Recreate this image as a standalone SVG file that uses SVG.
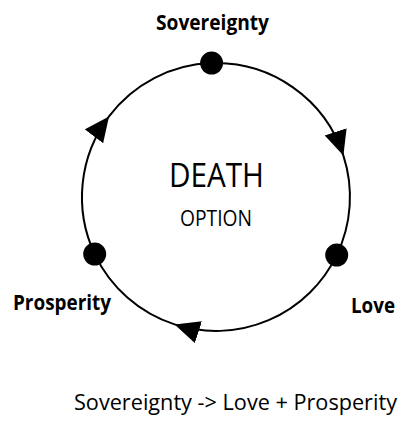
<svg xmlns="http://www.w3.org/2000/svg" width="404" height="422" viewBox="0 0 404 422">
<style>
.lbl{font-family:"Open Sans","Noto Sans","Liberation Sans",sans-serif;fill:#000}
.b{font-weight:bold}
.conn{fill:none;stroke:#000;stroke-width:2;marker-mid:url(#arr)}
.dot{fill:#000}
</style>
<defs>
<marker id="arr" viewBox="-25 -12 25 24" markerWidth="25" markerHeight="24" refX="0" refY="0" markerUnits="userSpaceOnUse" orient="auto">
<path d="M0,0 L-25,-11.5 L-25,11.5 Z" fill="#000"/>
</marker>
</defs>
<rect width="404" height="422" fill="#fff"/>
<g id="connectors">
<path class="conn" d="M211.6,63.1 A134,134 0 0 1 343.4,155.6 A134,134 0 0 1 336.7,255.1"/>
<path class="conn" d="M336.7,255.1 A134,134 0 0 1 174.6,324.4 A134,134 0 0 1 94.7,254.1"/>
<path class="conn" d="M94.7,254.1 A134,134 0 0 1 109.0,116.4 A134,134 0 0 1 211.6,63.1"/>
</g>
<g id="sovereignty">
<circle class="dot" cx="211.6" cy="63.1" r="11.5"/>
<text class="lbl b" x="156" y="29.5" font-size="22" textLength="113" lengthAdjust="spacingAndGlyphs">Sovereignty</text>
</g>
<g id="love">
<circle class="dot" cx="336.7" cy="255.1" r="11.5"/>
<text class="lbl b" x="351" y="313" font-size="21" textLength="44" lengthAdjust="spacingAndGlyphs">Love</text>
</g>
<g id="prosperity">
<circle class="dot" cx="94.7" cy="254.1" r="11.5"/>
<text class="lbl b" x="13" y="310" font-size="22" textLength="98" lengthAdjust="spacingAndGlyphs">Prosperity</text>
</g>
<g id="center">
<text class="lbl" x="169" y="187" font-size="33" font-weight="500" textLength="95" lengthAdjust="spacingAndGlyphs">DEATH</text>
<text class="lbl" x="180" y="226" font-size="22" textLength="72" lengthAdjust="spacingAndGlyphs">OPTION</text>
</g>
<g id="formula">
<text class="lbl" x="74" y="410" font-size="21" textLength="323" lengthAdjust="spacingAndGlyphs">Sovereignty -&gt; Love + Prosperity</text>
</g>
</svg>
